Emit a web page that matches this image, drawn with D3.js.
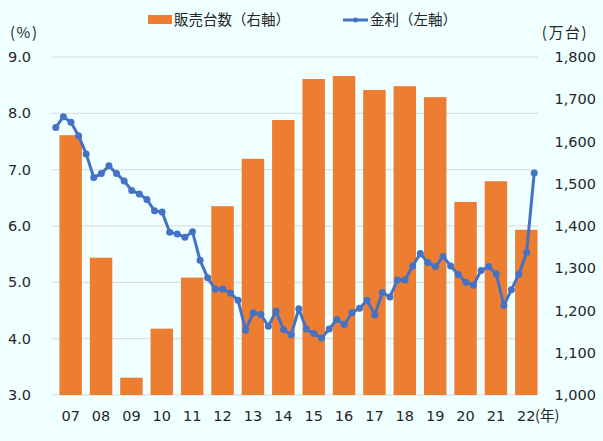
<!DOCTYPE html>
<html>
<head>
<meta charset="utf-8">
<script src="https://cdn.jsdelivr.net/npm/d3@7"></script>
<style>
  html, body { margin: 0; padding: 0; background: #f0ffff; }
  svg { display: block; }
  text { font-family: "DejaVu Sans", "Noto Sans CJK JP", sans-serif; fill: #262626; }
  .jp { font-family: "Noto Sans CJK JP", sans-serif; }
</style>
</head>
<body>
<svg id="chart" width="603" height="441"></svg>
<script>
// years on the category axis
const years = ["07", "08", "09", "10", "11", "12", "13", "14", "15", "16", "17", "18", "19", "20", "21", "22"];

// sales, 10k units (right axis)
const sales = [1615, 1325, 1041, 1157, 1278, 1447, 1559, 1651, 1748, 1755, 1722, 1731, 1705, 1457, 1506, 1391];

// interest rate, quarterly (left axis), 2007Q1 .. 2022Q4
const rate = [
    7.75, 7.94, 7.84, 7.60, 7.28, 6.86, 6.93, 7.07,
    6.93, 6.80, 6.63, 6.57, 6.47, 6.27, 6.25, 5.89,
    5.86, 5.80, 5.90, 5.39, 5.08, 4.88, 4.88, 4.81,
    4.68, 4.15, 4.46, 4.43, 4.22, 4.49, 4.16, 4.07,
    4.53, 4.17, 4.09, 4.01, 4.17, 4.34, 4.25, 4.46,
    4.54, 4.68, 4.42, 4.82, 4.74, 5.04, 5.04, 5.29,
    5.51, 5.35, 5.28, 5.46, 5.29, 5.14, 5.00, 4.95,
    5.21, 5.28, 5.15, 4.59, 4.87, 5.15, 5.53, 6.94
];

const leftTicks = [3, 4, 5, 6, 7, 8, 9];
const rightTicks = [1000, 1100, 1200, 1300, 1400, 1500, 1600, 1700, 1800];

// plot area
const plotLeft = 52, plotRight = 538, plotTop = 57, plotBottom = 395;
const orange = "#ed7d31", blue = "#4472c4";

const svg = d3.select("#chart");

// scales
const x = d3.scaleBand().domain(years).range([plotLeft, plotRight]).padding(0);
const xq = d3.scalePoint().domain(d3.range(rate.length)).range([plotLeft, plotRight]).padding(0.5);
const yLeft = d3.scaleLinear().domain([3, 9]).range([plotBottom, plotTop]);
const yRight = d3.scaleLinear().domain([1000, 1800]).range([plotBottom, plotTop]);

// gridlines from the left axis
svg.append("g")
    .selectAll("line")
    .data(leftTicks)
    .enter()
    .append("line")
    .attr("x1", plotLeft)
    .attr("x2", plotRight)
    .attr("y1", d => yLeft(d))
    .attr("y2", d => yLeft(d))
    .attr("stroke", "#d9d9d9")
    .attr("stroke-width", 1);

// bars sit a bit to the right inside each year band
const barOffset = 0.245, barWidth = 0.74;
svg.append("g")
    .selectAll("rect")
    .data(sales)
    .enter()
    .append("rect")
    .attr("x", (d, i) => x(years[i]) + x.bandwidth() * barOffset)
    .attr("y", d => yRight(d))
    .attr("width", x.bandwidth() * barWidth)
    .attr("height", d => plotBottom - yRight(d))
    .attr("fill", orange);

// rate line
const line = d3.line()
    .x((d, i) => xq(i))
    .y(d => yLeft(d));

svg.append("path")
    .datum(rate)
    .attr("d", line)
    .attr("fill", "none")
    .attr("stroke", blue)
    .attr("stroke-width", 3)
    .attr("stroke-linejoin", "round");

svg.append("g")
    .selectAll("circle")
    .data(rate)
    .enter()
    .append("circle")
    .attr("cx", (d, i) => xq(i))
    .attr("cy", d => yLeft(d))
    .attr("r", 3.5)
    .attr("fill", blue);

// left axis labels
svg.append("g")
    .selectAll("text")
    .data(leftTicks)
    .enter()
    .append("text")
    .attr("x", 31)
    .attr("y", d => yLeft(d))
    .attr("dy", "0.35em")
    .attr("text-anchor", "end")
    .style("font-size", "14.5px")
    .text(d => d3.format(".1f")(d));

// right axis labels
svg.append("g")
    .selectAll("text")
    .data(rightTicks)
    .enter()
    .append("text")
    .attr("x", 596)
    .attr("y", d => yRight(d))
    .attr("dy", "0.35em")
    .attr("text-anchor", "end")
    .style("font-size", "14.5px")
    .text(d => d3.format(",")(d));

// year labels under the bars
svg.append("g")
    .selectAll("text")
    .data(years)
    .enter()
    .append("text")
    .attr("x", d => x(d) + x.bandwidth() * (barOffset + barWidth / 2))
    .attr("y", 416)
    .attr("dy", "0.35em")
    .attr("text-anchor", "middle")
    .style("font-size", "14.5px")
    .text(d => d);

svg.append("text")
    .attr("class", "jp")
    .attr("x", 535)
    .attr("y", 416)
    .attr("dy", "0.35em")
    .style("font-size", "14.5px")
    .text("(年)");

// unit labels
svg.append("text")
    .attr("class", "jp")
    .attr("x", 10)
    .attr("y", 33)
    .attr("dy", "0.35em")
    .style("font-size", "15px")
    .style("letter-spacing", "1.5px")
    .text("(%)");

svg.append("text")
    .attr("class", "jp")
    .attr("x", 588)
    .attr("y", 33)
    .attr("dy", "0.35em")
    .attr("text-anchor", "end")
    .style("font-size", "15px")
    .style("letter-spacing", "1.5px")
    .text("(万台)");

// legend
const legend = svg.append("g").attr("class", "legend");

legend.append("rect")
    .attr("x", 148)
    .attr("y", 15)
    .attr("width", 24)
    .attr("height", 9)
    .attr("fill", orange);

legend.append("text")
    .attr("class", "jp")
    .attr("x", 174)
    .attr("y", 20)
    .attr("dy", "0.35em")
    .style("font-size", "14.5px")
    .text("販売台数（右軸）");

legend.append("line")
    .attr("x1", 343)
    .attr("x2", 368)
    .attr("y1", 20)
    .attr("y2", 20)
    .attr("stroke", blue)
    .attr("stroke-width", 3);

legend.append("circle")
    .attr("cx", 355.5)
    .attr("cy", 20)
    .attr("r", 2.5)
    .attr("fill", blue);

legend.append("text")
    .attr("class", "jp")
    .attr("x", 370)
    .attr("y", 20)
    .attr("dy", "0.35em")
    .style("font-size", "14.5px")
    .text("金利（左軸）");
</script>
</body>
</html>
